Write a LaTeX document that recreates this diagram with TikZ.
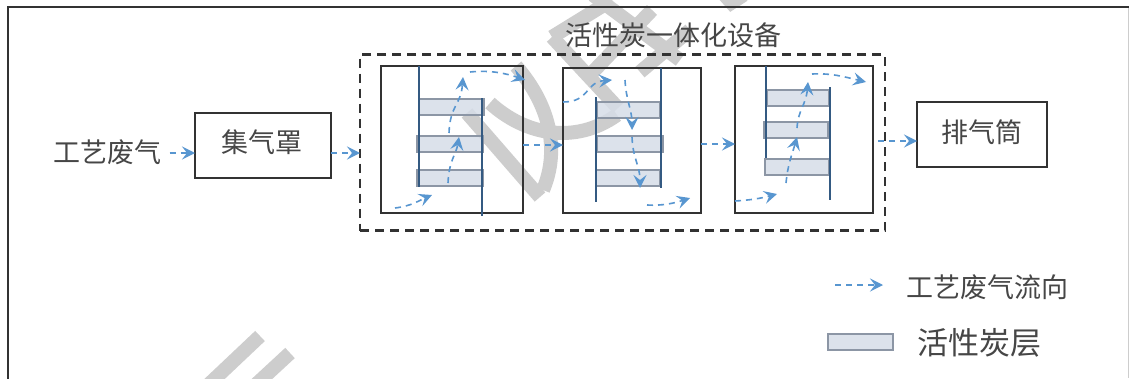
\documentclass[tikz,border=0pt]{standalone}
\usepackage{fontspec}
\setmainfont{Noto Sans CJK SC}
\usepackage{xcolor}
\usetikzlibrary{arrows.meta, calc}
\definecolor{framedark}{RGB}{50,50,50}
\definecolor{textdark}{RGB}{70,70,70}
\definecolor{wallblue}{RGB}{52,90,130}
\definecolor{flowblue}{RGB}{88,150,208}
\definecolor{carbonfill}{RGB}{214,221,232}
\definecolor{carbonedge}{RGB}{140,150,165}
\definecolor{stampgray}{RGB}{205,205,205}

\begin{document}
\begin{tikzpicture}[
    x=1pt, y=-1pt,
    label27/.style={font=\fontsize{27}{30}\selectfont, text=textdark, inner sep=0pt},
    module/.style={draw=framedark, line width=2.3pt, inner sep=0pt, outer sep=0pt},
    cell/.style={module, minimum height=147pt},
    carbon/.style={draw=carbonedge, line width=2pt, fill=carbonfill, fill opacity=0.85, inner sep=0pt, outer sep=0pt, minimum height=16pt},
    wall/.style={draw=wallblue, line width=2.6pt},
    flow/.style={-{Stealth[length=13pt, width=13pt, inset=5pt]}, flowblue, line width=1.6pt, dash pattern=on 6pt off 5pt},
    stamp/.style={draw=stampgray, line width=14pt}
]
    \clip (0,0) rectangle (1129,378);
    \fill[white] (0,0) rectangle (1129,378);

    % Stamp strokes
    \draw[stamp] (467,113) -- (540,197);
    \draw[stamp] (490,103) .. controls (525,135) and (575,145) .. (617,115);
    \draw[stamp] (516,66) .. controls (550,105) and (560,150) .. (543,190);
    \draw[stamp] (552,37) -- (612,0);
    \draw[stamp] (552,37) -- (618,108);
    \draw[stamp] (590,75) -- (652,10);
    \draw[stamp] (593,-5) -- (680,60);
    \draw[stamp] (640,72) -- (690,30);
    \draw[stamp, line width=9pt] (723,-3) -- (731,6) -- (745,-3);
    \draw[stamp] (260,336) -- (205,388);
    \draw[stamp] (290,353) -- (250,390);

    % Outer frame
    \draw[framedark, line width=2.3pt] (8,380) -- (8,7) -- (1131,7);
    \draw[stampgray, line width=0.8pt] (1128,8) -- (1128,378);

    % Main boxes
    \node[label27] (intake) at (107.5,152) {工艺废气};
    \node[module, minimum width=136pt, minimum height=65pt] (hood) at (263,145.5) {};
    \node[label27] (hoodlabel) at (262,142) {集气罩};
    \node[module, minimum width=130pt, minimum height=65pt] (stack) at (982,134.5) {};
    \node[label27] (stacklabel) at (982,132) {排气筒};
    \node[draw=framedark, line width=2.3pt, dash pattern=on 9pt off 6pt, inner sep=0pt, outer sep=0pt, minimum width=525pt, minimum height=176pt] (unit) at (622.5,142.5) {};
    \node[label27] (unitlabel) at (673,35) {活性炭一体化设备};

    % Adsorption cells
    \node[cell, minimum width=142pt] (cella) at (452,139.5) {};
    \node[cell, minimum width=138pt, minimum height=145pt] (cellb) at (632,140.5) {};
    \node[cell, minimum width=138pt] (cellc) at (804,139.5) {};

    % Carbon layers
    \node[carbon, minimum width=65pt] (carbona1) at (451.5,106.5) {};
    \node[carbon, minimum width=66pt] (carbona2) at (450,143.5) {};
    \node[carbon, minimum width=66pt] (carbona3) at (450,178) {};
    \node[carbon, minimum width=63pt] (carbonb1) at (628.5,109.5) {};
    \node[carbon, minimum width=66pt] (carbonb2) at (630,143.5) {};
    \node[carbon, minimum width=64pt] (carbonb3) at (628,178) {};
    \node[carbon, minimum width=62pt] (carbonc1) at (798,97.5) {};
    \node[carbon, minimum width=64pt] (carbonc2) at (796,130) {};
    \node[carbon, minimum width=64pt] (carbonc3) at (797,166.5) {};

    % Cell walls
    \draw[wall] (419,66) -- (419,187);
    \draw[wall] (482,98) -- (482,216);
    \draw[wall] (596,97) -- (596,202);
    \draw[wall] (661,68) -- (661,188);
    \draw[wall] (766,66) -- (766,158);
    \draw[wall] (830,87) -- (830,200);

    % Flow between boxes
    \draw[flow] (intake.east) ++(8,1) -- (hood.west |- 0,153);
    \draw[flow] ($(hood.east)+(0,7.5)$) -- (unit.west |- 0,153);
    \draw[flow] ($(cella.east)+(0,5.5)$) -- ($(cellb.west)+(0,4.5)$);
    \draw[flow] ($(cellb.east)+(0,3.5)$) -- ($(cellc.west)+(0,4.5)$);
    \draw[flow] (878,141) -- (stack.west |- 0,141);

    % Flow in first cell
    \draw[flow] (395,208) .. controls (412,206) and (420,200) .. (432,195);
    \draw[flow] (448,183) .. controls (449,160) and (456,155) .. (459,137);
    \draw[flow] (449,133) .. controls (450,105) and (461,105) .. (463,77);
    \draw[flow] (470,72) .. controls (490,70) and (505,73) .. (525,80);

    % Flow in second cell
    \draw[flow] (563,102) .. controls (590,102) and (585,82) .. (612,80);
    \draw[flow] (625,80) .. controls (626,100) and (632,110) .. (632,130);
    \draw[flow] (632,137) .. controls (633,160) and (640,165) .. (640,188);
    \draw[flow] (647,205) .. controls (662,206) and (675,203) .. (690,198);

    % Flow in third cell
    \draw[flow] (735,201) .. controls (752,200) and (762,198) .. (777,194);
    \draw[flow] (786,183) .. controls (788,163) and (792,155) .. (797,137);
    \draw[flow] (797,128) .. controls (798,110) and (806,105) .. (808,82);
    \draw[flow] (812,74) .. controls (832,73) and (845,77) .. (866,82);

    % Legend
    \coordinate (legendfrom) at (835,285);
    \node[label27, anchor=west] (legendflow) at (906,287) {工艺废气流向};
    \draw[flow] (legendfrom) -- (883,285);
    \node[carbon, minimum width=65pt] (legendcarbon) at (860.5,342) {};
    \node[label27, anchor=west, font=\fontsize{31}{34}\selectfont] (legendlayer) at (917,343) {活性炭层};
\end{tikzpicture}
\end{document}
